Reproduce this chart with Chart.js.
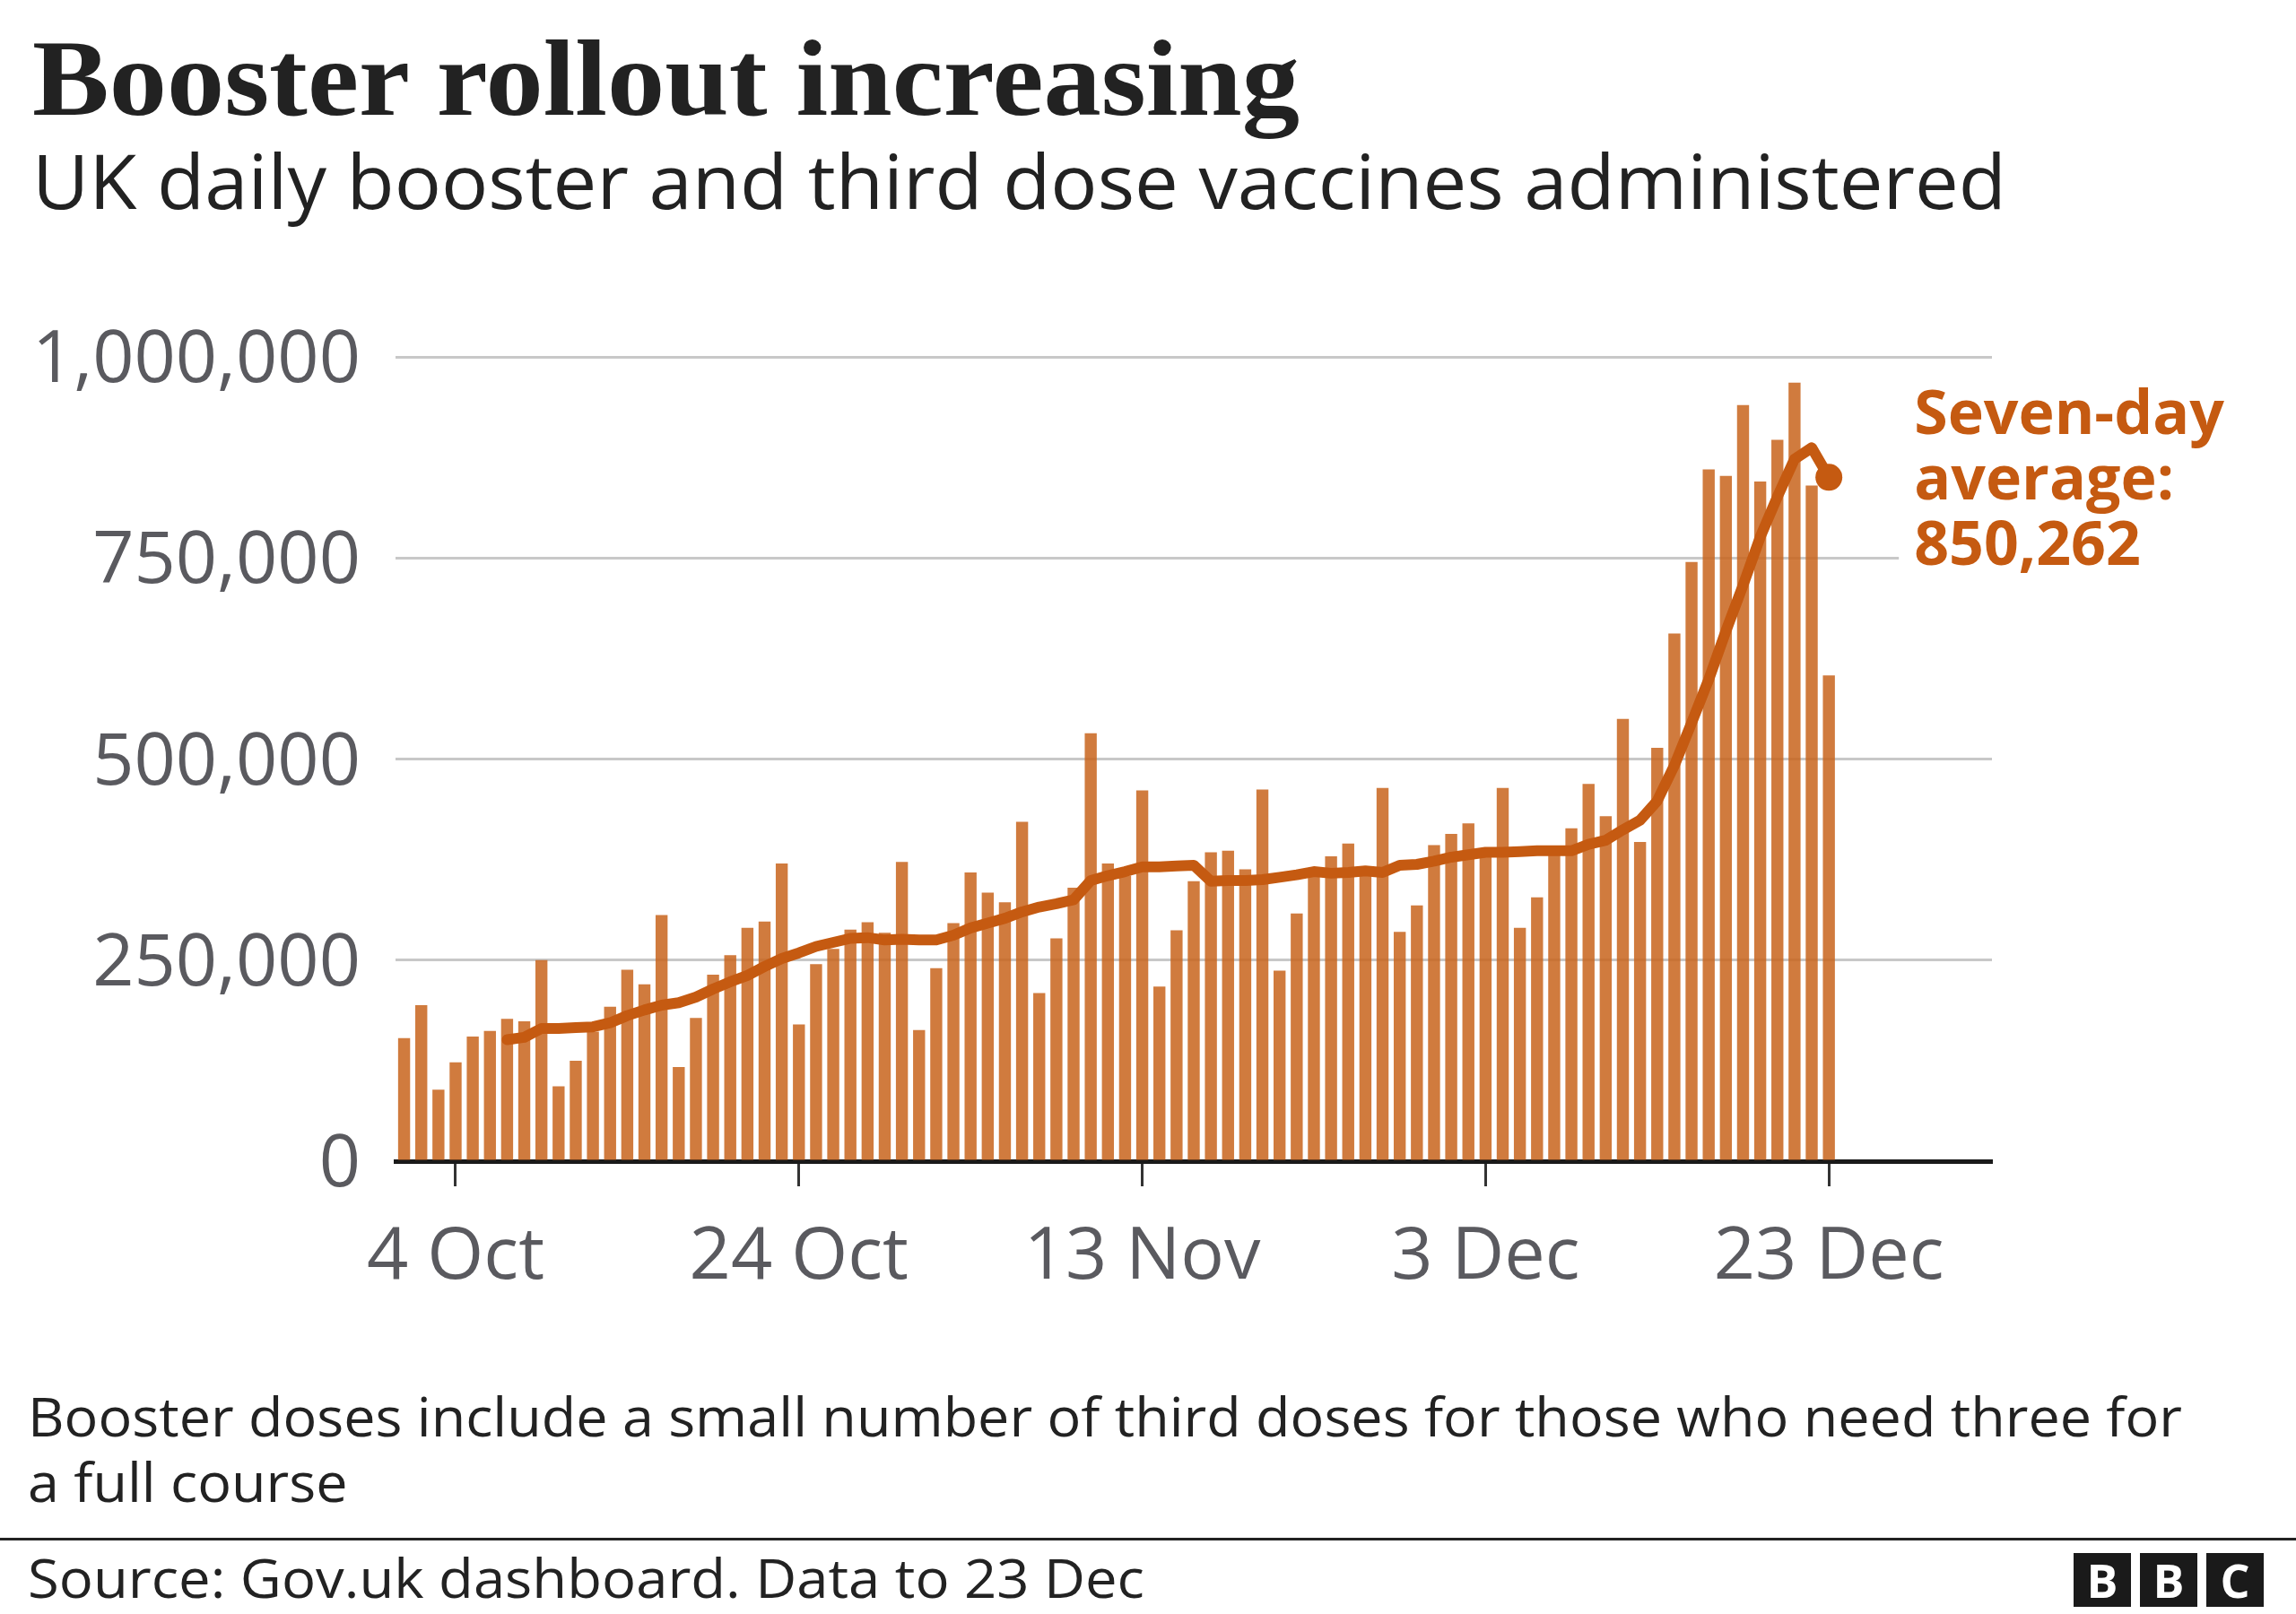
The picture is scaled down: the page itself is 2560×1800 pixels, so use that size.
<!DOCTYPE html>
<html>
<head>
<meta charset="utf-8">
<script src="https://cdn.jsdelivr.net/npm/chart.js@4.4.0/dist/chart.umd.min.js"></script>
<style>
html,body{margin:0;padding:0;background:#fff;}
#wrap{position:relative;width:2560px;height:1800px;overflow:hidden;background:#fff;}
#chart{position:absolute;left:0;top:0;}
.t{position:absolute;white-space:nowrap;line-height:normal;color:#222;transform-origin:0 0;}
#title{font-family:"Liberation Serif",serif;font-weight:bold;font-size:121px;}
#subtitle{font-family:"Open Sans",sans-serif;font-size:85px;}
.note{font-family:"Open Sans",sans-serif;font-size:61px;}
#rule{position:absolute;left:0;top:1715px;width:2560px;height:3px;background:#222;}
.bbc{position:absolute;top:1732px;width:64px;height:60px;background:#1a1a1a;color:#fff;font-family:"Open Sans",sans-serif;font-weight:bold;font-size:52px;line-height:60px;text-align:center;}
</style>
</head>
<body>
<div id="wrap">
  <canvas id="chart" width="2560" height="1800"></canvas>
  <div class="t" id="title">Booster rollout increasing</div>
  <div class="t" id="subtitle">UK daily booster and third dose vaccines administered</div>
  <div class="t note" id="note1">Booster doses include a small number of third doses for those who need three for</div>
  <div class="t note" id="note2">a full course</div>
  <div id="rule"></div>
  <div class="t note" id="source">Source: Gov.uk dashboard. Data to 23 Dec</div>
  <div class="bbc" style="left:2312px">B</div>
  <div class="bbc" style="left:2386px">B</div>
  <div class="bbc" style="left:2460px">C</div>
</div>
<script>
// ---- data ----
const dates = [
 "1 Oct","2 Oct","3 Oct","4 Oct","5 Oct","6 Oct","7 Oct","8 Oct","9 Oct","10 Oct",
 "11 Oct","12 Oct","13 Oct","14 Oct","15 Oct","16 Oct","17 Oct","18 Oct","19 Oct","20 Oct",
 "21 Oct","22 Oct","23 Oct","24 Oct","25 Oct","26 Oct","27 Oct","28 Oct","29 Oct","30 Oct","31 Oct",
 "1 Nov","2 Nov","3 Nov","4 Nov","5 Nov","6 Nov","7 Nov","8 Nov","9 Nov","10 Nov",
 "11 Nov","12 Nov","13 Nov","14 Nov","15 Nov","16 Nov","17 Nov","18 Nov","19 Nov","20 Nov",
 "21 Nov","22 Nov","23 Nov","24 Nov","25 Nov","26 Nov","27 Nov","28 Nov","29 Nov","30 Nov",
 "1 Dec","2 Dec","3 Dec","4 Dec","5 Dec","6 Dec","7 Dec","8 Dec","9 Dec","10 Dec",
 "11 Dec","12 Dec","13 Dec","14 Dec","15 Dec","16 Dec","17 Dec","18 Dec","19 Dec","20 Dec",
 "21 Dec","22 Dec","23 Dec"
];
const dailyDoses = [
 153000,194000,89000,123000,155000,162000,177000,174000,250000,93000,
 125000,161000,192000,238000,220000,306000,117000,178000,232000,256000,
 290000,298000,370000,170000,245000,264000,288000,297000,284000,372000,
 163000,240000,296000,359000,334000,322000,422000,209000,277000,340000,
 532000,370000,355000,461000,217000,287000,348000,384000,386000,363000,
 462000,237000,308000,359000,379000,395000,362000,464000,285000,318000,
 393000,407000,420000,382000,464000,290000,328000,385000,414000,469000,
 429000,550000,397000,514000,656000,745000,860000,852000,940000,845000,
 897000,968000,840000,604000
];
const sevenDayAvg = [
 null,null,null,null,null,null,151000,154000,165000,165000,
 166000,167000,172000,181000,188000,194000,197000,204000,214000,223000,
 231000,242000,252000,259000,267000,272000,277000,278000,275000,276000,
 275000,275000,281000,290000,296000,302000,310000,316000,320000,325000,
 349000,355000,360000,366000,366000,367000,368000,348000,349000,349000,
 350000,353000,356000,360000,358000,359000,361000,359000,368000,369000,
 373000,378000,381000,384000,384000,385000,386000,386000,386000,394000,
 399000,412000,424000,448000,492000,545000,599000,659000,716000,776000,
 826000,873000,887000,850262
];
const yTickValues = [0, 250000, 500000, 750000, 1000000];
const xTickLabels = ["4 Oct", "24 Oct", "13 Nov", "3 Dec", "23 Dec"];
const emptyDaysAfter = 9; // blank axis space after the last day
const annotationLines = ["Seven-day", "average:"];

// ---- colours / styles ----
const BAR = 'rgba(200,100,28,0.85)';
const LINE = '#c55a11';
const TICK_TXT = '#5a5a5f';

const labels = dates.concat(new Array(emptyDaysAfter).fill(''));

const annotPlugin = {
  id: 'annot',
  afterDraw(chart) {
    const ctx = chart.ctx;
    const meta = chart.getDatasetMeta(0);
    const pt = meta.data[sevenDayAvg.length - 1];
    const x = pt.x + 95, y = pt.y;
    ctx.save();
    ctx.fillStyle = '#fff';
    ctx.fillRect(x - 17, y - 110, chart.chartArea.right - x + 22, 230);
    ctx.fillStyle = LINE;
    ctx.font = 'bold 68px "Open Sans"';
    ctx.textBaseline = 'alphabetic';
    ctx.textAlign = 'left';
    const lastVal = sevenDayAvg[sevenDayAvg.length - 1].toLocaleString('en-GB');
    const lines = annotationLines.concat([lastVal]);
    lines.forEach((s, i) => ctx.fillText(s, x, y - 48 + i * 73));
    ctx.restore();
  }
};

new Chart(document.getElementById('chart'), {
  type: 'bar',
  data: {
    labels: labels,
    datasets: [
      {
        type: 'line',
        data: sevenDayAvg,
        borderColor: LINE,
        borderWidth: 12,
        tension: 0,
        borderCapStyle: 'round',
        borderJoinStyle: 'round',
        pointRadius: (c) => c.dataIndex === sevenDayAvg.length - 1 ? 15 : 0,
        pointBackgroundColor: LINE,
        pointBorderWidth: 0,
        pointHoverRadius: 0,
        order: 0
      },
      {
        type: 'bar',
        data: dailyDoses,
        backgroundColor: BAR,
        borderWidth: 0,
        barPercentage: 0.7,
        categoryPercentage: 1.0,
        order: 1
      }
    ]
  },
  options: {
    responsive: false,
    animation: false,
    devicePixelRatio: 1,
    layout: { padding: { top: 398, right: 339, bottom: 305, left: 0 } },
    plugins: { legend: { display: false }, tooltip: { enabled: false } },
    scales: {
      x: {
        grid: {
          display: true,
          drawOnChartArea: false,
          offset: false,
          tickLength: 28,
          tickWidth: 3,
          tickColor: (c) => (c.tick && xTickLabels.includes(labels[c.index])) ? '#333' : 'rgba(0,0,0,0)'
        },
        border: { display: true, color: '#1a1a1a', width: 5 },
        ticks: {
          autoSkip: false,
          maxRotation: 0,
          minRotation: 0,
          padding: 31,
          color: TICK_TXT,
          font: { family: 'Open Sans', size: 81 },
          callback: function (v) {
            const l = this.getLabelForValue(v);
            return xTickLabels.includes(l) ? l : '';
          }
        },
        afterFit(s) { s.height = 200; }
      },
      y: {
        min: 0,
        max: 1000000,
        afterBuildTicks(s) { s.ticks = yTickValues.map(v => ({ value: v })); },
        grid: {
          drawTicks: false,
          lineWidth: 3,
          color: (c) => (c.tick && c.tick.value === 0) ? 'rgba(0,0,0,0)' : '#c8c8c8'
        },
        border: { display: false },
        ticks: {
          padding: 39,
          labelOffset: 5,
          color: TICK_TXT,
          font: { family: 'Open Sans', size: 81 },
          callback: (v) => Number(v).toLocaleString('en-GB')
        },
        afterFit(s) { s.width = 441; }
      }
    }
  },
  plugins: [annotPlugin]
});

// ---- text placement (baseline + width fitting) ----
function place(id, left, baseline, targetW, scaleOverride) {
  const el = document.getElementById(id);
  el.style.left = left + 'px';
  el.style.top = '0px';
  const probe = document.createElement('span');
  probe.style.cssText = 'display:inline-block;width:0;height:0;vertical-align:baseline;';
  el.appendChild(probe);
  const off = probe.offsetTop;
  el.style.top = (baseline - off) + 'px';
  let s = 1;
  if (scaleOverride) s = scaleOverride;
  else if (targetW) s = targetW / el.getBoundingClientRect().width;
  el.style.transform = 'scaleX(' + s + ')';
  return s;
}
place('title', 36, 128, 1413);
place('subtitle', 36, 233, 2201);
const ns = place('note1', 31, 1602, 2402);
place('note2', 31, 1675, null, ns);
place('source', 31, 1782, 1245);
</script>
</body>
</html>
